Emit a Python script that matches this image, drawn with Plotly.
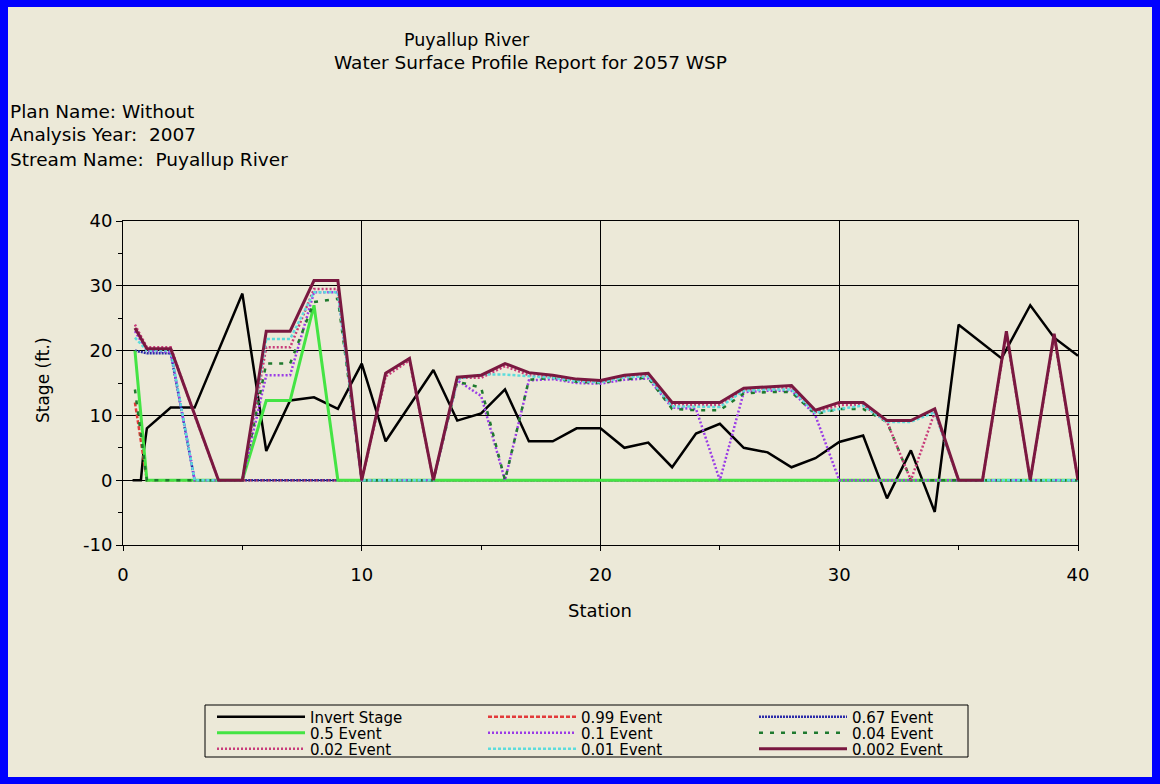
import plotly.graph_objects as go

# ---------------- data ----------------
stations = [0.5, 1, 2, 3, 4, 5, 6, 7, 8, 9, 10, 11, 12, 13, 14, 15, 16, 17, 18, 19, 20,
            21, 22, 23, 24, 25, 26, 27, 28, 29, 30, 31, 32, 33, 34, 35, 36, 37, 38, 39, 40]

invert_station = [0.4, 0.75, 0.85, 1, 2, 3, 5, 6, 7, 8, 9, 10, 11, 13, 14, 15, 16, 17, 18, 19, 20,
                  21, 22, 23, 24, 25, 26, 27, 28, 29, 30, 31, 32, 33, 34, 35, 36.8, 38, 39, 40]
invert_stage = [0, 0, 4, 8, 11.2, 11.2, 28.8, 4.5, 12.3, 12.8, 11, 18, 6, 17, 9.2, 10.3, 14, 6, 6, 8, 8,
                5, 5.8, 2, 7.2, 8.7, 5, 4.3, 2, 3.4, 5.9, 6.9, -2.8, 4.6, -4.9, 24, 18.8, 27, 22, 19.2]

ev_099 = [12, 0, 0, 0, 0, 0, 0, 0, 0, 0, 0, 0, 0, 0, 0, 0, 0, 0, 0, 0, 0,
          0, 0, 0, 0, 0, 0, 0, 0, 0, 0, 0, 0, 0, 0, 0, 0, 0, 0, 0, 0]
ev_067 = [20, 19.6, 19.6, 0, 0, 0, 0, 0, 0, 0, 0, 0, 0, 0, 0, 0, 0, 0, 0, 0, 0,
          0, 0, 0, 0, 0, 0, 0, 0, 0, 0, 0, 0, 0, 0, 0, 0, 0, 0, 0, 0]
ev_05 = [20, 0, 0, 0, 0, 0, 12.3, 12.3, 27, 0, 0, 0, 0, 0, 0, 0, 0, 0, 0, 0, 0,
         0, 0, 0, 0, 0, 0, 0, 0, 0, 0, 0, 0, 0, 0, 0, 0, 0, 0, 0, 0]
ev_01 = [23, 20, 19.8, 0, 0, 0, 16.2, 16.2, 29, 29, 0, 0, 0, 0, 15.4, 13, 0, 15.4, 15.6, 15, 14.9,
         15.5, 15.7, 11.2, 11, 0, 13.6, 13.8, 13.8, 10, 0, 0, 0, 0, 0, 0, 0, 0, 0, 0, 0]
ev_004 = [14, 0, 0, 0, 0, 0, 18, 18, 27.5, 28, 0, 0, 0, 0, 15.2, 14.3, 0, 15.5, 15.8, 15.2, 15,
          15.6, 15.8, 11, 10.8, 10.8, 13.4, 13.6, 13.6, 10.2, 11, 11, 9, 0, 0, 0, 0, 0, 0, 0, 0]
ev_002 = [24, 20.5, 20.5, 10, 0, 0, 20.5, 20.5, 29.5, 29.5, 0, 16, 18.5, 0, 15.8, 15.8, 17.6, 16.2, 16, 15.4, 15.2,
          16, 16.2, 11.6, 11.6, 11.6, 14, 14.2, 14.3, 10.5, 11.6, 11.6, 9, 0, 10.5, 0, 0, 22.6, 0, 22.2, 0]
ev_001 = [22, 20, 20, 0, 0, 0, 21.8, 21.8, 29, 29, 0, 0, 0, 0, 15.6, 16.3, 16.3, 16, 15.8, 15.3, 15.1,
          15.9, 16, 11.4, 11.3, 11.3, 13.8, 14, 14, 10.4, 11, 11.5, 9, 9, 10.5, 0, 0, 0, 0, 0, 0]
ev_0002 = [23.5, 20.3, 20.3, 10, 0, 0, 23, 23, 30.8, 30.8, 0, 16.5, 18.8, 0, 15.9, 16.2, 18, 16.6, 16.2, 15.6, 15.4,
           16.2, 16.5, 12, 12, 12, 14.2, 14.4, 14.6, 10.8, 12, 12, 9.2, 9.2, 11, 0, 0, 23, 0, 22.6, 0]

x_ticks = [0, 10, 20, 30, 40]
x_minor = [5, 15, 25, 35]
y_ticks = [-10, 0, 10, 20, 30, 40]
y_tick_text = ["-10", "0", "10", "20", "30", "40"]
y_minor = [-5, 5, 15, 25, 35]

# ---------------- styling ----------------
BG = "#ECE9D8"
FONT = "DejaVu Sans, Verdana, sans-serif"

series = [
    ("Invert Stage", invert_station, invert_stage, "#000000", "solid", 2.5, "legend"),
    ("0.99 Event", stations, ev_099, "#E23A3A", "4px,2px", 2.5, "legend"),
    ("0.67 Event", stations, ev_067, "#2A2AA8", "2px,1px", 2.5, "legend"),
    ("0.5 Event", stations, ev_05, "#44E444", "solid", 3, "legend2"),
    ("0.1 Event", stations, ev_01, "#9A3CE6", "2px,2px", 2.5, "legend2"),
    ("0.04 Event", stations, ev_004, "#1F7A2E", "4px,7px", 2.5, "legend2"),
    ("0.02 Event", stations, ev_002, "#C83C7A", "2px,2px", 2.5, "legend3"),
    ("0.01 Event", stations, ev_001, "#5CDCDC", "3px,2px", 2.5, "legend3"),
    ("0.002 Event", stations, ev_0002, "#7A1840", "solid", 3, "legend3"),
]

fig = go.Figure()
for name, xs, ys, color, dash, width, lg in series:
    fig.add_trace(go.Scatter(x=xs, y=ys, mode="lines", name=name, legend=lg,
                             line=dict(color=color, dash=dash, width=width)))

# pixel <-> paper helpers (plot area: x 123..1078, y 221..545)
L, R, T, B = 123, 1078, 221, 545
W, H = R - L, B - T
def px(x):
    return (x - L) / W
def py(y):
    return (B - y) / H

legend_common = dict(orientation="h", xanchor="left", yanchor="middle",
                     bgcolor="rgba(0,0,0,0)", borderwidth=0, itemwidth=88,
                     entrywidth=168, font=dict(family=FONT, size=15, color="#000"),
                     tracegroupgap=0, itemclick=False)

common_axis = dict(showgrid=True, gridcolor="#000", gridwidth=1,
                   showline=True, linecolor="#000", linewidth=1, mirror=True,
                   ticks="outside", tickcolor="#000", zeroline=False,
                   tickfont=dict(family=FONT, size=18))

fig.update_layout(
    width=1160, height=784,
    margin=dict(l=L, r=1160 - R, t=T, b=784 - B, autoexpand=False),
    paper_bgcolor="#0000FF",
    plot_bgcolor=BG,
    font=dict(family=FONT, size=18, color="#000"),
    legend=dict(x=px(212), y=py(717), **legend_common),
    legend2=dict(x=px(212), y=py(733), **legend_common),
    legend3=dict(x=px(212), y=py(749), **legend_common),
    xaxis=dict(range=[0, 40], tickvals=x_ticks, ticklen=5, ticklabelstandoff=8,
               minor=dict(tickvals=x_minor, ticks="outside", ticklen=4, tickcolor="#000", showgrid=False),
               **common_axis),
    yaxis=dict(range=[-10, 40], tickvals=y_ticks, ticktext=y_tick_text, ticklen=6,
               minor=dict(tickvals=y_minor, ticks="outside", ticklen=4, tickcolor="#000", showgrid=False),
               **common_axis),
    xaxis2=dict(range=[0, 40], overlaying="x", anchor="y", side="bottom", tickvals=x_minor,
                ticks="inside", ticklen=4, tickcolor="#000", showticklabels=False,
                showgrid=False, showline=False, zeroline=False),
    yaxis2=dict(range=[-10, 40], overlaying="y", anchor="x", side="left", tickvals=y_minor,
                ticks="inside", ticklen=4, tickcolor="#000", showticklabels=False,
                showgrid=False, showline=False, zeroline=False),
    shapes=[
        dict(type="rect", xref="paper", yref="paper", layer="below",
             x0=px(8), x1=px(1152), y0=py(777), y1=py(7),
             fillcolor=BG, line=dict(width=0)),
        dict(type="rect", xref="paper", yref="paper", layer="above",
             x0=px(205), x1=px(968), y0=py(757), y1=py(705),
             fillcolor="rgba(0,0,0,0)", line=dict(color="#000", width=1)),
    ],
    annotations=[
        dict(text="Puyallup River", x=px(467), y=py(40), xref="paper", yref="paper",
             xanchor="center", yanchor="middle", showarrow=False, font=dict(size=17.5)),
        dict(text="Water Surface Profile Report for 2057 WSP", x=px(530), y=py(62), xref="paper", yref="paper",
             xanchor="center", yanchor="middle", showarrow=False, font=dict(size=18.5)),
        dict(text="Plan Name: Without", x=px(8), y=py(111), xref="paper", yref="paper",
             xanchor="left", yanchor="middle", showarrow=False, font=dict(size=18.5)),
        dict(text="Analysis Year:  2007", x=px(8), y=py(135), xref="paper", yref="paper",
             xanchor="left", yanchor="middle", showarrow=False, font=dict(size=18.5)),
        dict(text="Stream Name:  Puyallup River", x=px(8), y=py(159), xref="paper", yref="paper",
             xanchor="left", yanchor="middle", showarrow=False, font=dict(size=18.5)),
        dict(text="Station", x=px(600), y=py(610), xref="paper", yref="paper",
             xanchor="center", yanchor="middle", showarrow=False, font=dict(size=18)),
        dict(text="Stage (ft.)", x=px(43), y=py(380), xref="paper", yref="paper", textangle=-90,
             xanchor="center", yanchor="middle", showarrow=False, font=dict(size=17)),
    ],
)

fig.write_html("out.html", config={"displayModeBar": False},
               post_script="document.body.style.margin='0';document.body.style.padding='0';"
                           "document.body.style.overflow='hidden';document.body.style.background='#0000FF';")
